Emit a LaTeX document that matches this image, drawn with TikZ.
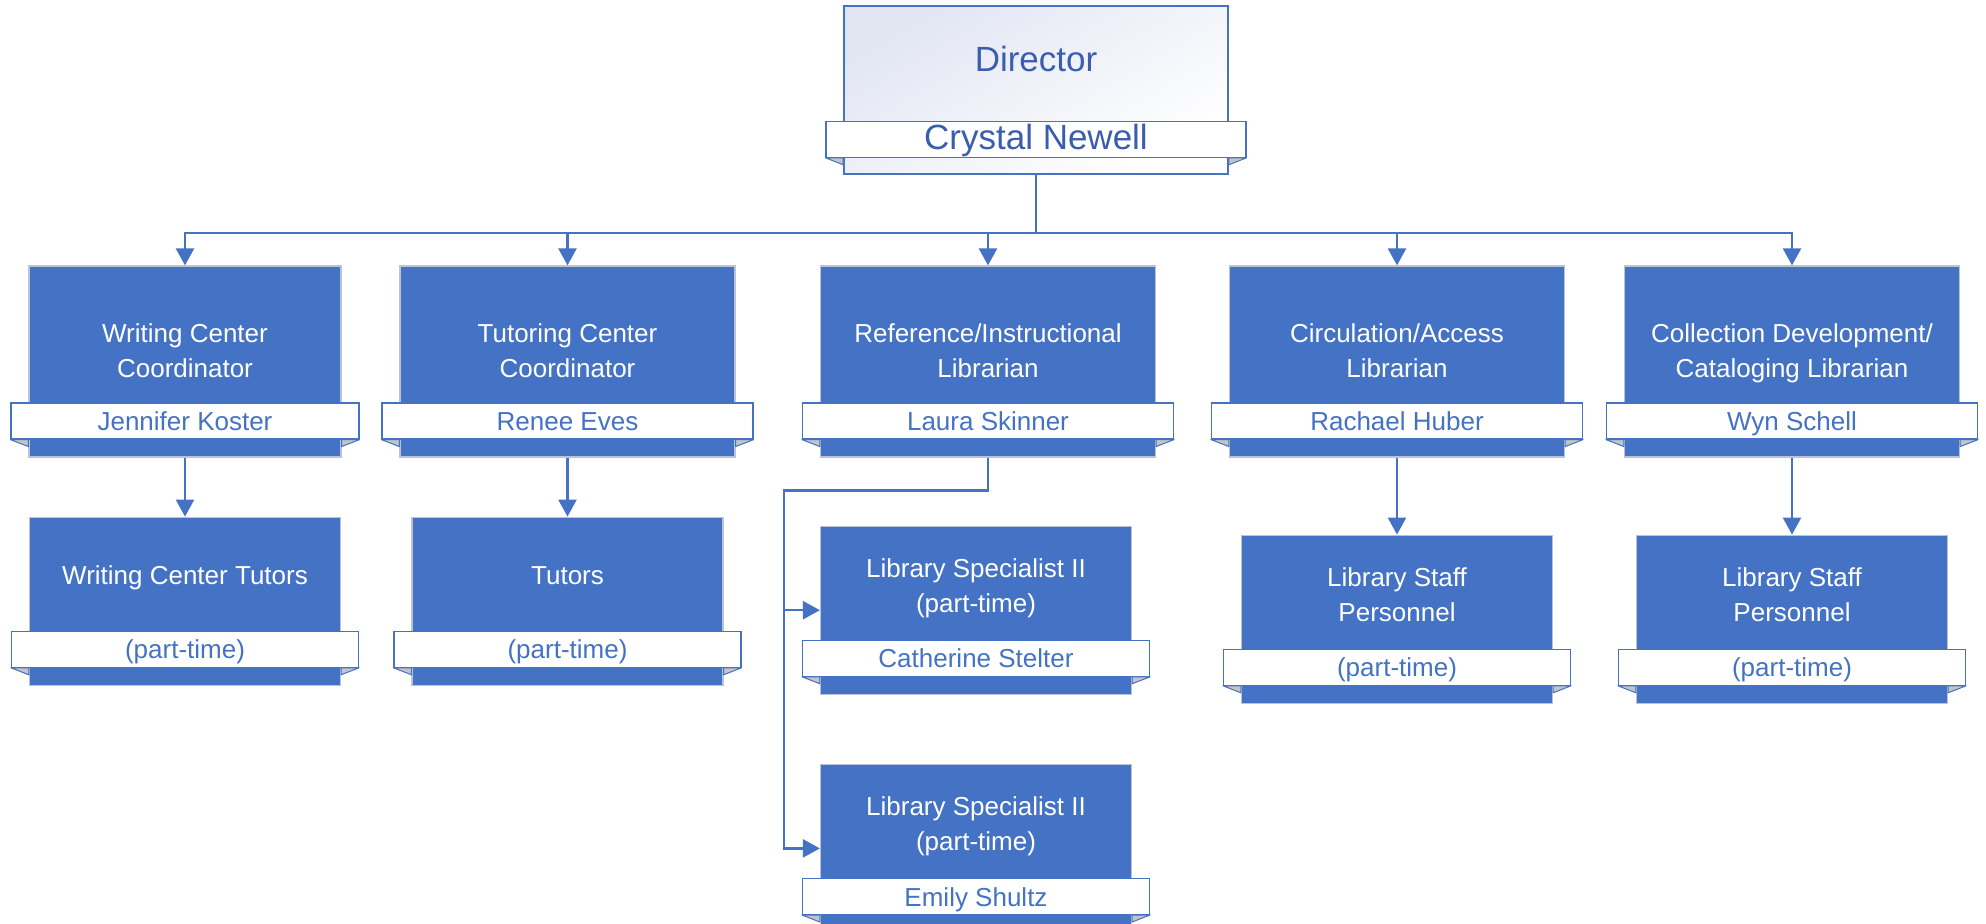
\documentclass[tikz,border=0pt]{standalone}
\usepackage{fontspec}
\setmainfont{Liberation Sans}
\usetikzlibrary{positioning, arrows.meta, calc}

\definecolor{orgblue}{HTML}{4472C4}
\definecolor{dirblue}{HTML}{3A5DAE}
\definecolor{edgegray}{HTML}{BAC4D8}
\definecolor{foldgray}{HTML}{C4C4C4}
\definecolor{dirtint}{HTML}{E2E6F3}

\tikzset{
	rolebox/.style={draw=edgegray, line width=0.6pt, fill=orgblue, minimum width=156pt, minimum height=95.5pt, inner sep=0pt},
	staffbox/.style={rolebox, minimum width=155.5pt, minimum height=84pt},
	banner/.style={draw=orgblue, line width=0.6pt, fill=white, minimum height=18pt, inner sep=0pt, text height=9.6pt, text depth=0pt, text=orgblue, font=\fontsize{13}{15}\selectfont},
	roletitle/.style={text=white, align=center, inner sep=0pt, font=\fontsize{13}{17.5}\selectfont, execute at begin node=\strut, execute at end node=\strut},
	fold/.style={fill=foldgray, draw=orgblue, line width=0.5pt, line join=round},
	conn/.style={draw=orgblue, line width=1.2pt, -{Triangle[width=9pt,length=8.5pt]}},
}

\begin{document}
\begin{tikzpicture}[x=0.5pt, y=-0.5pt]
		\useasboundingbox (0,0) rectangle (1986,924);
		
		% Director
		\node[draw=orgblue, line width=0.8pt, top color=dirtint, bottom color=white, shading angle=30, minimum width=192pt, minimum height=84pt] (dir) at (1036,90) {};
		\node[roletitle, text=dirblue, font=\fontsize{17.5}{20}\selectfont] (dir-t) at ([yshift=13pt]dir.center) {Director};
		\node[banner, minimum width=210pt, text=dirblue, text height=10.2pt, font=\fontsize{17.5}{20}\selectfont, above=8.5pt of dir.south] (dir-n) {Crystal Newell};
		\coordinate[below=29pt of dir.south] (bus);
		
		% Coordinators and librarians
		\foreach \id/\x/\w/\role/\name in {
			wcc/185/156/{Writing Center\\Coordinator}/Jennifer Koster,
			tcc/567.5/167.5/{Tutoring Center\\Coordinator}/Renee Eves,
			ril/988/167.5/{Reference/Instructional\\Librarian}/Laura Skinner,
			cal/1397/167.5/{Circulation/Access\\Librarian}/Rachael Huber,
			cdl/1792/167.5/{Collection Development/\\Cataloging Librarian}/Wyn Schell}{
			\node[rolebox, minimum width=\w pt] (\id) at (\x,361.5) {};
			\node[roletitle] (\id-t) at ([yshift=3pt]\id.center) {\role};
			\node[banner, minimum width={\w pt+18pt}, above=9pt of \id.south] (\id-n) {\name};
			\draw[conn] (dir.south) -- (bus) -| (\id.north);
		}
		
		% Staff below
		\node[staffbox, below=29.5pt of wcc] (wct) {};
		\node[roletitle] (wct-t) at ([yshift=12pt]wct.center) {Writing Center Tutors};
		\node[banner, minimum width=173.5pt, above=9pt of wct.south] (wct-n) {(part-time)};
		
		\node[staffbox, below=29.5pt of tcc] (tut) {};
		\node[roletitle] (tut-t) at ([yshift=12pt]tut.center) {Tutors};
		\node[banner, minimum width=173.5pt, above=9pt of tut.south] (tut-n) {(part-time)};
		
		\node[staffbox, below right=34pt and 0pt of ril.south west] (ls1) {};
		\node[roletitle] (ls1-t) at ([yshift=9.8pt]ls1.center) {Library Specialist II\\(part-time)};
		\node[banner, minimum width=173.5pt, above=9pt of ls1.south] (ls1-n) {Catherine Stelter};
		
		\node[staffbox, below=34.5pt of ls1] (ls2) {};
		\node[roletitle] (ls2-t) at ([yshift=9.8pt]ls2.center) {Library Specialist II\\(part-time)};
		\node[banner, minimum width=173.5pt, above=9pt of ls2.south] (ls2-n) {Emily Shultz};
		
		\node[staffbox, below=38.5pt of cal] (lsp1) {};
		\node[roletitle] (lsp1-t) at ([yshift=9.8pt]lsp1.center) {Library Staff\\Personnel};
		\node[banner, minimum width=173.5pt, above=9pt of lsp1.south] (lsp1-n) {(part-time)};
		
		\node[staffbox, below=38.5pt of cdl] (lsp2) {};
		\node[roletitle] (lsp2-t) at ([yshift=9.8pt]lsp2.center) {Library Staff\\Personnel};
		\node[banner, minimum width=173.5pt, above=9pt of lsp2.south] (lsp2-n) {(part-time)};
		
		% Folded banner ends
		\foreach \b in {dir,wcc,tcc,ril,cal,cdl,wct,tut,ls1,ls2,lsp1,lsp2}{
			\draw[fold] (\b-n.south west) -- (\b-n.south west -| \b.west) -- ($(\b-n.south west -| \b.west)+(0,7)$) -- cycle;
			\draw[fold] (\b-n.south east) -- (\b-n.south east -| \b.east) -- ($(\b-n.south east -| \b.east)+(0,7)$) -- cycle;
		}
		
		% Reporting lines
		\draw[conn] (wcc.south) -- (wct.north);
		\draw[conn] (tcc.south) -- (tut.north);
		\draw[conn] (cal.south) -- (lsp1.north);
		\draw[conn] (cdl.south) -- (lsp2.north);
		\coordinate[below=16.5pt of ril.south] (elbow);
		\coordinate[left=18pt of ls1.west] (spine);
		\foreach \s in {ls1,ls2}
			\draw[conn] (ril.south) -- (elbow) -| (spine) |- (\s.west);
	\end{tikzpicture}
\end{document}
